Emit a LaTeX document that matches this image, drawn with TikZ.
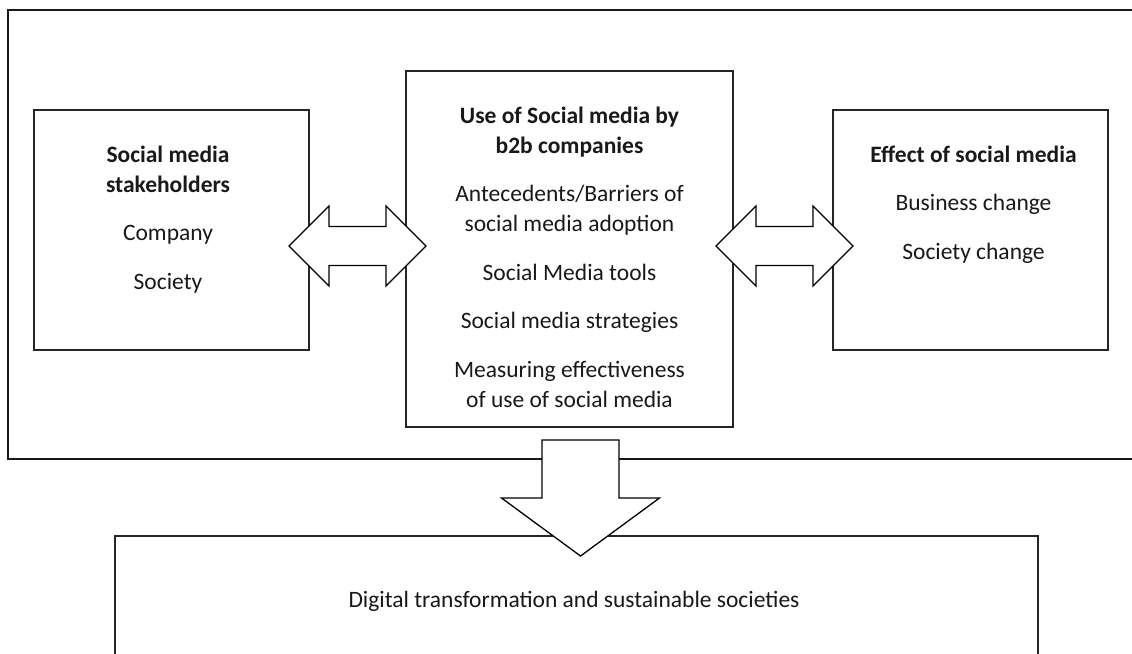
\documentclass[tikz,border=0pt]{standalone}
\usepackage{fontspec}
\setmainfont{Carlito}
\begin{document}
\begin{tikzpicture}[x=1pt,y=-1pt,
  box/.style={draw=black!85, line width=1.6pt, inner sep=0pt, fill=white},
  txt/.style={align=center, inner sep=0pt, font=\fontsize{23.5}{30}\selectfont, text=black!90},
  blockarrow/.style={draw=black, line width=1.3pt, fill=white, line join=miter}]
\useasboundingbox (0,0) rectangle (1132,653);
\clip (0,0) rectangle (1132,653);
% outer frame
\node[draw=black!90, line width=2pt, minimum width=1137pt, minimum height=449pt, inner sep=0pt] (outer) at (576.5,234.5) {};
% boxes
\node[box, minimum width=275pt, minimum height=240pt] (stake) at (171.5,230) {};
\node[box, minimum width=327pt, minimum height=356pt] (use) at (569.5,249) {};
\node[box, minimum width=275pt, minimum height=240pt] (effect) at (970.5,230) {};
\node[box, minimum width=923pt, minimum height=170pt] (digital) at (576.5,621) {};
% texts
\node[txt, anchor=north] (stakeT) at (168,141) {\strut\textbf{Social media}\\ \textbf{stakeholders}\\[18.5pt] Company\\[18.5pt] Society};
\node[txt, anchor=north] (useT) at (569.5,102) {\strut\textbf{Use of Social media by}\\ \textbf{b2b companies}\\[18.5pt] Antecedents/Barriers of\\ social media adoption\\[18.5pt] Social Media tools\\[18.5pt] Social media strategies\\[18.5pt] Measuring effectiveness\\ of use of social media};
\node[txt, anchor=north] (effectT) at (973.5,141) {\strut\textbf{Effect of social media}\\[18.5pt] Business change\\[18.5pt] Society change};
\node[txt, anchor=base] (digitalT) at (574,607) {Digital transformation and sustainable societies};
% block arrows
\coordinate (la) at (357.5,246);
\coordinate (ra) at (784.5,246);
\coordinate (da) at (580.5,440);
\draw[blockarrow, shift={(la)}] (-68.5,0) -- (-28.5,-40) -- (-28.5,-19.5) -- (28.5,-19.5) -- (28.5,-40) -- (68.5,0) -- (28.5,40) -- (28.5,19.5) -- (-28.5,19.5) -- (-28.5,40) -- cycle;
\draw[blockarrow, shift={(ra)}] (-68.5,0) -- (-28.5,-40) -- (-28.5,-19.5) -- (28.5,-19.5) -- (28.5,-40) -- (68.5,0) -- (28.5,40) -- (28.5,19.5) -- (-28.5,19.5) -- (-28.5,40) -- cycle;
\draw[blockarrow, shift={(da)}] (-38.5,0) -- (38.5,0) -- (38.5,58) -- (79,58) -- (0,116) -- (-79,58) -- (-38.5,58) -- cycle;
\end{tikzpicture}
\end{document}
